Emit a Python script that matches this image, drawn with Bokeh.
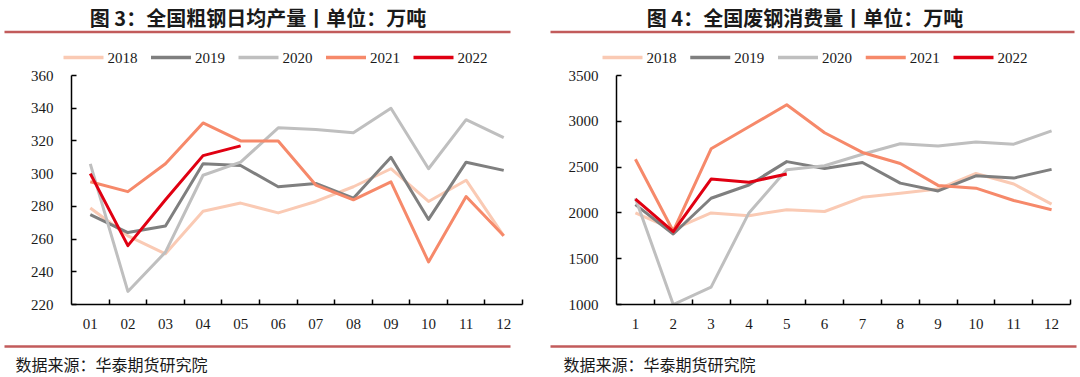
from bokeh.plotting import figure
from bokeh.layouts import column, row
from bokeh.models import Range1d, FixedTicker
from bokeh.core.properties import value
from bokeh.embed import file_html
from bokeh.resources import INLINE

# ---------------- data ----------------
years = ["2018", "2019", "2020", "2021", "2022"]
colors = ["#FACAB4", "#7F7F7F", "#BFBFBF", "#F6896A", "#E00012"]

steel_labels = ["01", "02", "03", "04", "05", "06", "07", "08", "09", "10", "11", "12"]
steel_2018 = [279, 262, 251, 277, 282, 276, 283, 292, 303, 283, 296, 262]
steel_2019 = [275, 264, 268, 306, 305, 292, 294, 285, 310, 272, 307, 302]
steel_2020 = [306, 228, 252, 299, 307, 328, 327, 325, 340, 303, 333, 322]
steel_2021 = [295, 289, 306, 331, 320, 320, 293, 284, 295, 246, 286, 262]
steel_2022 = [300, 256, 284, 311, 317]

scrap_labels = ["1", "2", "3", "4", "5", "6", "7", "8", "9", "10", "11", "12"]
scrap_2018 = [2000, 1820, 2000, 1970, 2035, 2015, 2170, 2215, 2260, 2430, 2315, 2095]
scrap_2019 = [2090, 1770, 2160, 2305, 2560, 2485, 2550, 2325, 2240, 2405, 2380, 2475]
scrap_2020 = [2160, 1000, 1190, 2000, 2470, 2515, 2640, 2755, 2730, 2775, 2750, 2895]
scrap_2021 = [2585, 1800, 2700, 2940, 3180, 2875, 2660, 2540, 2300, 2270, 2135, 2035]
scrap_2022 = [2150, 1795, 2370, 2335, 2425]

title_left = "图 3：全国粗钢日均产量丨单位：万吨"
title_right = "图 4：全国废钢消费量丨单位：万吨"
source_text = "数据来源：华泰期货研究院"

W = 1080
SERIF = "Liberation Serif"
CJK = "Noto Sans CJK SC"
RULE = "#C25B5B"


def deco_figure(h):
    f = figure(width=W, height=h, x_range=Range1d(0, W), y_range=Range1d(h, 0),
               x_axis_type=None, y_axis_type=None, toolbar_location=None,
               output_backend="svg", min_border=0)
    f.outline_line_color = None
    f.grid.visible = False
    return f


# ---------------- top strip: titles, rules, legends ----------------
top = deco_figure(66)
top.text(x=[257.5, 804.5], y=[17, 17], text=[title_left, title_right],
         text_font=value(CJK), text_font_style="bold", text_font_size="20px",
         text_align="center", text_baseline="middle", text_color="#1A1A1A")
top.segment(x0=[4, 550], y0=[31.5, 31.5], x1=[510, 1074], y1=[31.5, 31.5],
            line_color=RULE, line_width=2.5)

for start, step in [(63, 87.5), (602, 87.75)]:
    xs0 = [start + i * step for i in range(len(years))]
    top.segment(x0=xs0, y0=[57] * 5, x1=[x + 40 for x in xs0], y1=[57] * 5,
                line_color=colors, line_width=3.5)
    top.text(x=[x + 44 for x in xs0], y=[57.5] * 5, text=years,
             text_font=value(SERIF), text_font_size="15px",
             text_align="left", text_baseline="middle", text_color="#1A1A1A")


# ---------------- charts ----------------
def chart(width, ymin, ymax, step, labels, series, borders):
    left, right, topb, bottom = borders
    f = figure(width=width, height=274, x_range=Range1d(0.5, 12.5),
               y_range=Range1d(ymin, ymax), toolbar_location=None,
               output_backend="svg", min_border_left=left, min_border_right=right,
               min_border_top=topb, min_border_bottom=bottom)
    f.outline_line_color = None
    f.grid.visible = False
    months = list(range(1, 13))
    for vals, c in zip(series, colors):
        f.line(months[:len(vals)], vals, line_color=c, line_width=3,
               line_join="round")
    xa = f.xaxis[0]
    xa.ticker = FixedTicker(ticks=months, minor_ticks=[m + 0.5 for m in months])
    xa.major_label_overrides = {m: lab for m, lab in zip(months, labels)}
    xa.major_tick_in = 0
    xa.major_tick_out = 0
    xa.minor_tick_in = 5
    xa.minor_tick_out = 0
    xa.minor_tick_line_width = 1.5
    xa.major_label_standoff = 14
    ya = f.yaxis[0]
    ya.ticker = FixedTicker(ticks=list(range(ymin, ymax + 1, step)))
    ya.major_tick_in = 5
    ya.major_tick_out = 0
    ya.minor_tick_line_color = None
    ya.major_label_standoff = 18
    for ax in (xa, ya):
        ax.axis_line_color = "black"
        ax.axis_line_width = 1.5
        ax.major_tick_line_color = "black"
        ax.major_tick_line_width = 1.5
        ax.minor_tick_line_color = "black" if ax is xa else None
        ax.major_label_text_font = SERIF
        ax.major_label_text_font_size = "15px"
        ax.major_label_text_color = "#1A1A1A"
    return f


left_chart = chart(548, 220, 360, 20, steel_labels,
                   [steel_2018, steel_2019, steel_2020, steel_2021, steel_2022],
                   (71, 26, 9, 35))
right_chart = chart(532, 1000, 3500, 500, scrap_labels,
                    [scrap_2018, scrap_2019, scrap_2020, scrap_2021, scrap_2022],
                    (68, 10, 7, 36))

# ---------------- bottom strip: rules, source ----------------
bottom = deco_figure(37)
bottom.segment(x0=[4, 550], y0=[6, 6], x1=[510, 1076], y1=[6, 6],
               line_color=RULE, line_width=2.5)
bottom.text(x=[15, 563], y=[23, 23], text=[source_text, source_text],
            text_font=value(CJK), text_font_size="16px",
            text_align="left", text_baseline="middle", text_color="#1A1A1A")

layout = column(top, row(left_chart, right_chart), bottom)

open("out.html", "w").write(file_html(layout, INLINE))
